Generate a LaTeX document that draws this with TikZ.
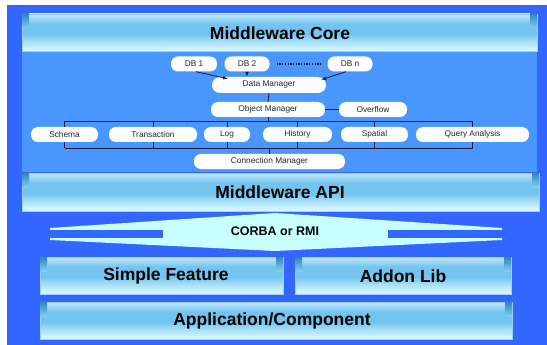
\documentclass[tikz,border=0pt]{standalone}
\usepackage{fontspec}
\setmainfont{Liberation Sans}
\usetikzlibrary{arrows.meta,calc}

\definecolor{outerblue}{HTML}{3366FF}
\definecolor{panelblue}{HTML}{4A96FF}
\definecolor{barhi}{HTML}{C0E8FA}
\definecolor{barmid}{HTML}{74C4F0}
\definecolor{barlo}{HTML}{DAFAFF}
\definecolor{barline}{HTML}{9AD4F2}
\definecolor{cornerteal}{HTML}{3186BA}
\definecolor{pipe}{HTML}{C8FFFF}
\definecolor{wire}{HTML}{1A1A3A}

% glossy bar: light top, mid blue body, pale bottom
\pgfdeclareverticalshading{barshade}{100bp}{%
  color(0bp)=(barlo); color(25bp)=(barlo); color(36bp)=(barlo!60!barmid);
  color(48bp)=(barmid); color(62bp)=(barmid); color(71bp)=(barhi!70!barmid);
  color(75bp)=(barhi); color(100bp)=(barhi)}

\tikzset{
  bar/.style={shading=barshade, draw=barline, line width=0.5pt},
  cornerpatch/.style={top color=cornerteal, bottom color=barmid!80!barhi, draw=none},
  head/.style={font=\fontsize{17.5}{20}\selectfont\bfseries, text=black, inner sep=0pt},
  pill/.style={fill=white, rounded corners=7pt, minimum height=15pt, inner sep=0pt,
    font=\fontsize{8.3}{9}\selectfont, text=black!85},
  wire/.style={draw=wire, line width=0.8pt},
  arr/.style={wire, -{Latex[length=5pt,width=3.6pt]}},
}

\begin{document}
\begin{tikzpicture}[x=1pt,y=-1pt]
\useasboundingbox (0,0) rectangle (547,345);
\fill[white] (0,0) rectangle (547,345);
\fill[outerblue] (7,5) rectangle (547,345);

% core panel
\fill[panelblue] (22,14) rectangle (537,172);

% layered bars
\shade[bar] (22,14) rectangle (537,51);
\shade[bar] (22,173) rectangle (539,211);
\shade[bar] (40,257) rectangle (283,294);
\shade[bar] (295,257) rectangle (511,294);
\shade[bar] (40,302) rectangle (512,339);
\foreach \xa/\xb/\ya/\yb in {22/29/14/28, 530/537/14/28, 22/29/173/187, 532/539/173/187,
  40/47/257/271, 276/283/257/271, 295/302/257/271, 504/511/257/271,
  40/47/302/316, 505/512/302/316}
  \shade[cornerpatch] (\xa,\ya) rectangle (\xb,\yb);

\node[head] (core) at (280,33) {Middleware Core};
\node[head] (api) at (280,192) {Middleware API};
\node[head] (sf) at (166,276) {Simple Feature};
\node[head] (addon) at (403,276) {Addon Lib};
\node[head] (app) at (272,321) {Application/Component};

% CORBA / RMI channel
\fill[pipe] (50,228) -- (275,213) -- (502,228) -- (502,240) -- (275,251) -- (50,240) -- cycle;
\fill[outerblue] (49,230) rectangle (163,238);
\fill[outerblue] (388,230) rectangle (503,238);
\node[font=\fontsize{12.5}{14}\selectfont\bfseries, inner sep=0pt] (corba) at (275,231) {CORBA or RMI};

% databases and managers
\node[pill, minimum width=46pt] (db1) at (194,64) {DB 1};
\node[pill, minimum width=45pt] (db2) at (247,64) {DB 2};
\node[pill, minimum width=45pt] (dbn) at (350,64) {DB n};
\node[pill, minimum width=114pt, minimum height=16pt, rounded corners=8pt] (dm) at (269,85) {Data Manager};
\node[pill, minimum width=114pt] (om) at (268,109.5) {Object Manager};
\node[pill, minimum width=68pt] (ovf) at (373,109.5) {Overflow};

\draw[wire, line width=1.3pt, dash pattern=on 1.3pt off 1.4pt] ($(db2.east)+(7,0)$) -- ($(dbn.west)+(-5,0)$);
\draw[arr] ($(db1.south)+(2,0)$) -- ([xshift=-41pt,yshift=-2pt]dm.north);
\draw[arr] (db2.south) -- ([xshift=-22pt]dm.north);
\draw[arr] ($(dbn.south)+(-4,0)$) -- ([xshift=52pt,yshift=-3pt]dm.north);
\draw[wire] (dm.south) -- (om.north);
\draw[wire] (om.east) -- (ovf.west);

% service row
\node[pill, minimum width=67pt] (sch) at (64.5,134.5) {Schema};
\node[pill, minimum width=88pt] (trn) at (153,134.5) {Transaction};
\node[pill, minimum width=46pt] (log) at (227,134.5) {Log};
\node[pill, minimum width=69pt] (his) at (297.5,134.5) {History};
\node[pill, minimum width=67pt] (spa) at (374.5,134.5) {Spatial};
\node[pill, minimum width=113pt] (qry) at (472.5,134.5) {Query Analysis};
\node[pill, minimum width=151pt] (cm) at (269.5,161.5) {Connection Manager};

\coordinate (tbus) at (0,121);
\coordinate (bbus) at (0,148);
\draw[wire] (sch.north |- tbus) -- (qry.north |- tbus);
\draw[wire] (sch.south |- bbus) -- (qry.south |- bbus);
\draw[wire] (om.south) -- (om.south |- tbus);
\draw[wire] (cm.north) -- (cm.north |- bbus);
\foreach \n in {sch,trn,log,his,spa,qry}{
  \draw[wire] (\n.north) -- (\n.north |- tbus);
  \draw[wire] (\n.south) -- (\n.south |- bbus);
}
\end{tikzpicture}
\end{document}
